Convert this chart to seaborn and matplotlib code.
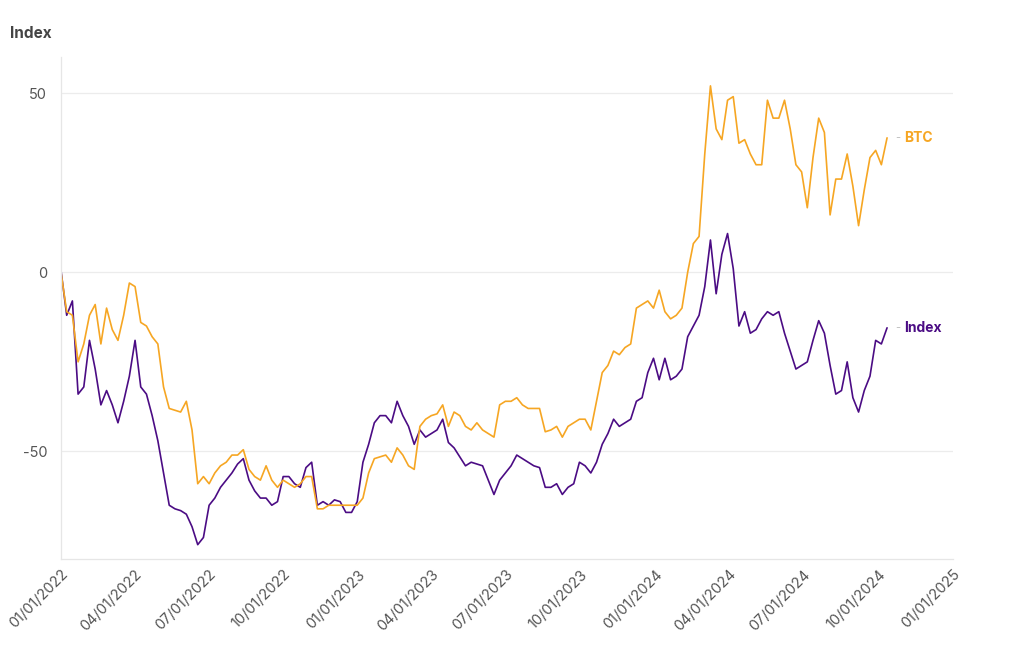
import pandas as pd
import matplotlib.pyplot as plt
import matplotlib.dates as mdates
import seaborn as sns

# weekly readings, first week of Jan 2022 to mid Oct 2024
dates = pd.date_range("2022-01-01", periods=146, freq="7D")

index_vals = [
    0.5, -12, -8, -34, -32, -19, -27, -37, -33, -37,
    -42, -36, -29, -19, -32, -34, -40, -47, -56, -65,
    -66, -66.5, -67.5, -71, -76, -74, -65, -63, -60, -58,
    -56, -53.5, -52, -58, -61, -63, -63, -65, -64, -57,
    -57, -59, -60, -54.5, -53, -65, -64, -65, -63.5, -64,
    -67, -67, -64, -53, -48, -42, -40, -40, -42, -36,
    -40, -43, -48, -44, -46, -45, -44, -41, -47.5, -49,
    -51.5, -54, -53, -53.5, -54, -58, -62, -58, -56, -54,
    -51, -52, -53, -54, -54.5, -60, -60, -59, -62, -60,
    -59, -53, -54, -56, -53, -48, -45, -41, -43, -42,
    -41, -36, -35, -28, -24, -30, -24, -30, -29, -27,
    -18, -15, -12, -4, 9, -6, 5, 10.8, 1, -15,
    -11, -17, -16, -13, -11, -12, -11, -17, -22, -27,
    -26, -25, -19, -13.5, -17, -26, -34, -33, -25, -35,
    -39, -33, -29, -19, -20, -15.5,
]

btc_vals = [
    0, -11, -12, -25, -20, -12, -9, -20, -10, -16,
    -19, -12, -3, -4, -14, -15, -18, -20, -32, -38,
    -38.5, -39, -36, -44, -59, -57, -59, -56, -54, -53,
    -51, -51, -49.5, -55, -57, -58, -54, -58, -60, -58,
    -59, -60, -59, -57, -57, -66, -66, -65, -65, -65,
    -65, -65, -65, -63, -56, -52, -51.5, -51, -53, -49,
    -51, -54, -55, -43, -41, -40, -39.5, -37, -43, -39,
    -40, -43, -44, -42, -44, -45, -46, -37, -36, -36,
    -35, -37, -38, -38, -38, -44.5, -44, -43, -46, -43,
    -42, -41, -41, -44, -36, -28, -26, -22, -23, -21,
    -20, -10, -9, -8, -10, -5, -11, -13, -12, -10,
    0, 8, 10, 33, 52, 40, 37, 48, 49, 36,
    37, 33, 30, 30, 48, 43, 43, 48, 40, 30,
    28, 18, 32, 43, 39, 16, 26, 26, 33, 24,
    13, 23, 32, 34, 30, 37.5,
]

series_names = ["Index", "BTC"]
colors = {"Index": "#4B0C84", "BTC": "#F6A623"}
tick_dates = pd.date_range("2022-01-01", "2025-01-01", freq="QS")

df = pd.concat([
    pd.DataFrame({"date": dates, "value": index_vals, "series": "Index"}),
    pd.DataFrame({"date": dates, "value": btc_vals, "series": "BTC"}),
])

sns.set_style("white")
plt.rcParams["font.family"] = ["Inter", "DejaVu Sans"]
plt.rcParams["axes.unicode_minus"] = False

fig = plt.figure(figsize=(10.2, 6.5), dpi=100)
ax = fig.add_axes([0.0598, 0.14, 0.8745, 0.772])

sns.lineplot(data=df, x="date", y="value", hue="series", hue_order=series_names,
             palette=colors, linewidth=1.2, legend=False, ax=ax)

ax.set_xlim(pd.Timestamp("2022-01-01"), pd.Timestamp("2025-01-01"))
ax.set_ylim(-80, 60)
ax.set_yticks([-50, 0, 50])
ax.set_xticks(tick_dates)
ax.xaxis.set_major_formatter(mdates.DateFormatter("%m/%d/%Y"))
ax.grid(axis="y", color="#ececec", linewidth=0.9)
ax.set_axisbelow(True)
ax.set_xlabel("")
ax.set_ylabel("")

for side in ["top", "right"]:
    ax.spines[side].set_visible(False)
for side in ["left", "bottom"]:
    ax.spines[side].set_color("#e6e6e6")
    ax.spines[side].set_linewidth(0.9)

ax.tick_params(axis="y", length=0, labelsize=10.5, labelcolor="#555555", pad=10)
ax.tick_params(axis="x", length=4, color="#dddddd", labelsize=10.5,
               labelcolor="#555555", pad=2)
for lbl in ax.get_xticklabels():
    lbl.set_rotation(45)
    lbl.set_ha("right")
    lbl.set_rotation_mode("anchor")

# end-of-line labels
for name, vals in [("BTC", btc_vals), ("Index", index_vals)]:
    ax.annotate("-", xy=(dates[-1], vals[-1]), xytext=(6, 0), textcoords="offset points",
                va="center", ha="left", color="#bbbbbb", fontsize=8, annotation_clip=False)
    ax.annotate(name, xy=(dates[-1], vals[-1]), xytext=(12, 0), textcoords="offset points",
                va="center", ha="left", color=colors[name], fontsize=10,
                fontweight="bold", annotation_clip=False)

fig.text(0.01, 0.949, "Index", fontsize=11, fontweight="bold", color="#444444", va="center")

fig.savefig("out.png", dpi=100)
